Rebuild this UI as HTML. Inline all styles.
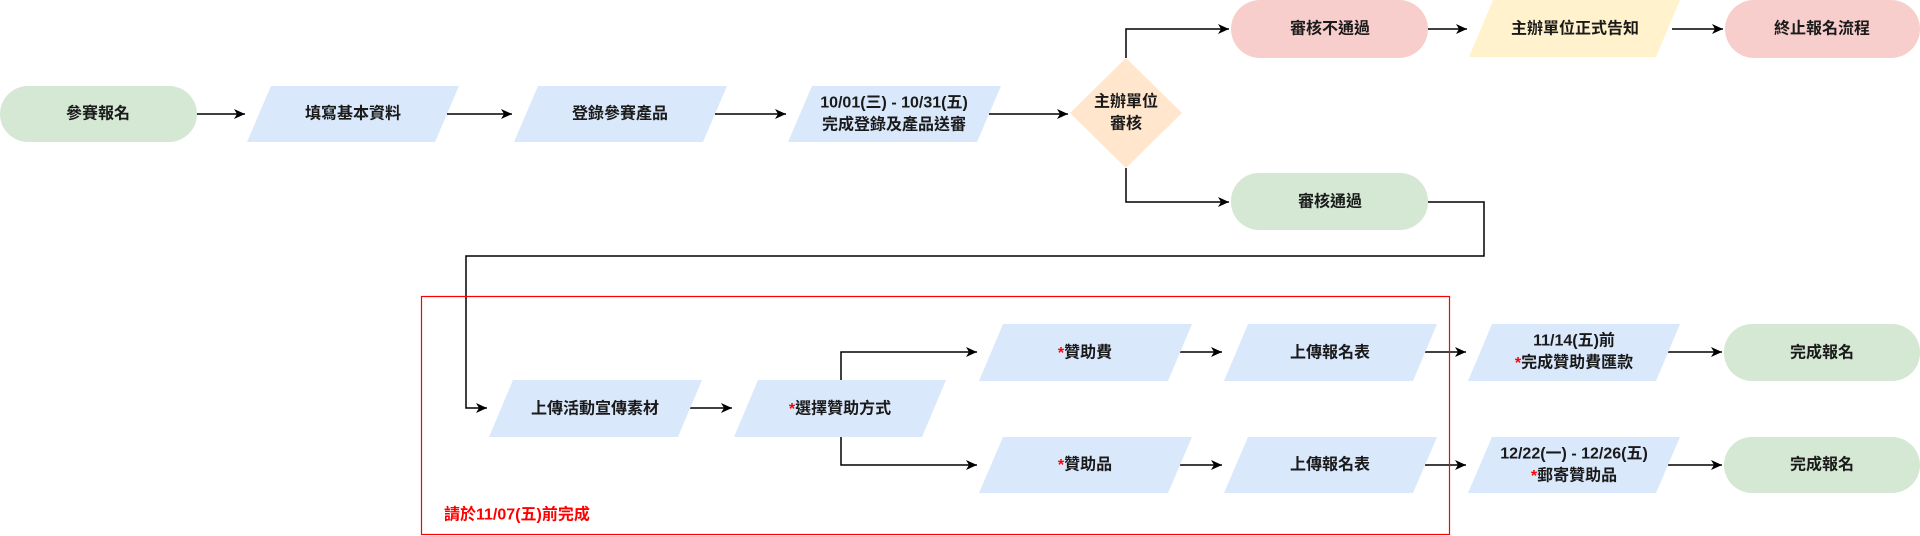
<!DOCTYPE html>
<html><head><meta charset="utf-8"><style>
html,body{margin:0;padding:0;background:#fff;width:1920px;height:536px;overflow:hidden}
svg text{font-family:"Liberation Sans","Noto Sans CJK TC",sans-serif;font-size:16px;font-weight:bold;fill:#1a1a1a;text-anchor:middle;dominant-baseline:central}
</style></head><body>
<svg width="1920" height="536" viewBox="0 0 1920 536" xmlns="http://www.w3.org/2000/svg">
<defs><marker id="a" markerWidth="12" markerHeight="12" refX="11" refY="6" orient="auto" markerUnits="userSpaceOnUse"><path d="M0,1 L11,6 L0,11 L3,6 Z" fill="#000"/></marker></defs>
<rect x="0" y="86" width="197" height="56" rx="28" fill="#d5e8d4"/>
<text x="98" y="114">參賽報名</text>
<polygon points="271,86 459,86 435,142 247,142" fill="#dae8fc"/>
<text x="353" y="114">填寫基本資料</text>
<polygon points="538,86 727,86 703,142 514,142" fill="#dae8fc"/>
<text x="620" y="114">登錄參賽產品</text>
<polygon points="812,86 1001,86 977,142 788,142" fill="#dae8fc"/>
<text x="894" y="103">10/01(三) - 10/31(五)</text>
<text x="894" y="125">完成登錄及產品送審</text>
<polygon points="1126,58 1182,113 1126,168 1070,113" fill="#ffe6cc"/>
<text x="1126" y="102">主辦單位</text>
<text x="1126" y="124">審核</text>
<g stroke="#000" stroke-width="1.5" fill="none" marker-end="url(#a)">
<line x1="197" y1="114" x2="245" y2="114"/>
<line x1="447" y1="114" x2="512" y2="114"/>
<line x1="715" y1="114" x2="786" y2="114"/>
<line x1="989" y1="114" x2="1068" y2="114"/>
<polyline points="1126,58 1126,29 1229,29"/>
<polyline points="1126,168 1126,202 1229,202"/>
<line x1="1428" y1="29" x2="1467" y2="29"/>
<line x1="1672" y1="29" x2="1723" y2="29"/>
<polyline points="1428,202 1484,202 1484,256 466,256 466,408 487,408"/>
<line x1="690" y1="408" x2="732" y2="408"/>
<polyline points="841,380 841,352 977,352"/>
<polyline points="841,437 841,465 977,465"/>
<line x1="1180" y1="352" x2="1222" y2="352"/>
<line x1="1180" y1="465" x2="1222" y2="465"/>
<line x1="1425" y1="352" x2="1466" y2="352"/>
<line x1="1425" y1="465" x2="1466" y2="465"/>
<line x1="1668" y1="352" x2="1722" y2="352"/>
<line x1="1668" y1="465" x2="1722" y2="465"/>
</g>
<rect x="1231" y="0" width="197" height="58" rx="29" fill="#f8cecc"/>
<text x="1330" y="29">審核不通過</text>
<polygon points="1493,0 1680,0 1656,57 1469,57" fill="#fff2cc"/>
<text x="1575" y="29">主辦單位正式告知</text>
<rect x="1725" y="0" width="195" height="58" rx="29" fill="#f8cecc"/>
<text x="1822" y="29">終止報名流程</text>
<rect x="1231" y="173" width="197" height="57" rx="28" fill="#d5e8d4"/>
<text x="1330" y="202">審核通過</text>
<rect x="421.5" y="296.5" width="1028" height="238" fill="none" stroke="#ff0000" stroke-width="1.2"/>
<text x="444" y="515" style="fill:#ff0000;text-anchor:start">請於11/07(五)前完成</text>
<polygon points="513,380 702,380 678,437 489,437" fill="#dae8fc"/>
<text x="595" y="409">上傳活動宣傳素材</text>
<polygon points="758,380 946,380 922,437 734,437" fill="#dae8fc"/>
<text x="840" y="409"><tspan style="fill:#ff0000">*</tspan>選擇贊助方式</text>
<polygon points="1003,324 1192,324 1168,381 979,381" fill="#dae8fc"/>
<text x="1085" y="353"><tspan style="fill:#ff0000">*</tspan>贊助費</text>
<polygon points="1248,324 1437,324 1413,381 1224,381" fill="#dae8fc"/>
<text x="1330" y="353">上傳報名表</text>
<polygon points="1492,324 1680,324 1656,381 1468,381" fill="#dae8fc"/>
<text x="1574" y="341">11/14(五)前</text>
<text x="1574" y="363"><tspan style="fill:#ff0000">*</tspan>完成贊助費匯款</text>
<rect x="1724" y="324" width="196" height="57" rx="28" fill="#d5e8d4"/>
<text x="1822" y="353">完成報名</text>
<polygon points="1003,437 1192,437 1168,493 979,493" fill="#dae8fc"/>
<text x="1085" y="465"><tspan style="fill:#ff0000">*</tspan>贊助品</text>
<polygon points="1248,437 1437,437 1413,493 1224,493" fill="#dae8fc"/>
<text x="1330" y="465">上傳報名表</text>
<polygon points="1492,437 1680,437 1656,493 1468,493" fill="#dae8fc"/>
<text x="1574" y="454">12/22(一) - 12/26(五)</text>
<text x="1574" y="476"><tspan style="fill:#ff0000">*</tspan>郵寄贊助品</text>
<rect x="1724" y="437" width="196" height="56" rx="28" fill="#d5e8d4"/>
<text x="1822" y="465">完成報名</text>
</svg>
</body></html>
